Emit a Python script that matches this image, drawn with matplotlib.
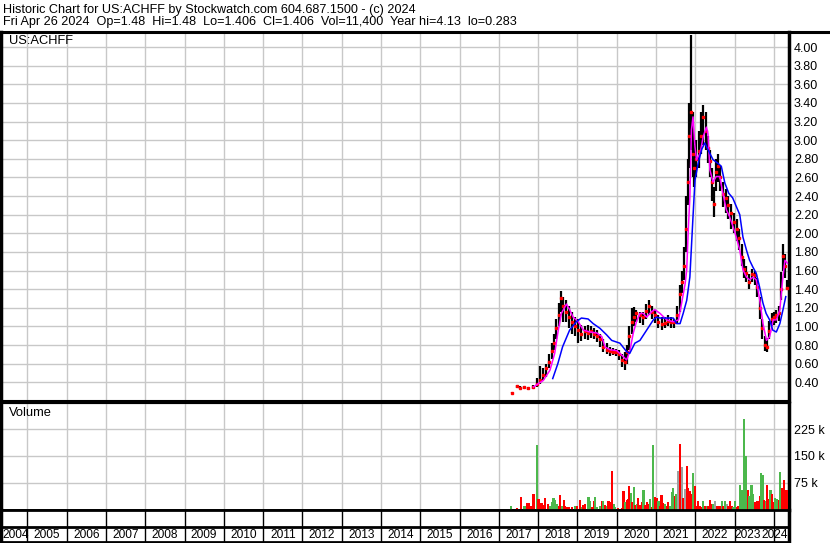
import matplotlib
matplotlib.use("Agg")
import matplotlib.pyplot as plt
from matplotlib.lines import Line2D
import numpy as np

plt.rcParams['font.family'] = ['Liberation Sans', 'DejaVu Sans']

W, H = 830, 543

# --- price data (decimal year, close, high, low) ---
price_years = [2017.34, 2017.45, 2017.55, 2017.65, 2017.75, 2017.88, 2017.96, 2018.04, 2018.12, 2018.20,
               2018.27, 2018.34, 2018.40, 2018.46, 2018.52, 2018.58, 2018.64, 2018.70, 2018.78, 2018.86,
               2018.94, 2019.02, 2019.10, 2019.18, 2019.26, 2019.34, 2019.42, 2019.50, 2019.58, 2019.66,
               2019.74, 2019.82, 2019.90, 2019.98, 2020.06, 2020.14, 2020.20, 2020.26, 2020.32, 2020.38,
               2020.44, 2020.50, 2020.58, 2020.66, 2020.74, 2020.82, 2020.90, 2020.98, 2021.06, 2021.14,
               2021.22, 2021.30, 2021.38, 2021.46, 2021.53, 2021.60, 2021.66, 2021.72, 2021.77, 2021.81,
               2021.85, 2021.89, 2021.93, 2021.97, 2022.02, 2022.08, 2022.14, 2022.20, 2022.26, 2022.31,
               2022.36, 2022.42, 2022.48, 2022.53, 2022.58, 2022.63, 2022.70, 2022.77, 2022.84, 2022.91,
               2022.98, 2023.05, 2023.12, 2023.18, 2023.24, 2023.30, 2023.37, 2023.44, 2023.51, 2023.58,
               2023.64, 2023.70, 2023.76, 2023.82, 2023.88, 2023.94, 2024.00, 2024.06, 2024.12, 2024.17,
               2024.22, 2024.27, 2024.32]
price_close = [0.29, 0.36, 0.34, 0.35, 0.34, 0.35, 0.38, 0.42, 0.48, 0.55,
               0.62, 0.74, 0.82, 0.98, 1.12, 1.30, 1.22, 1.16, 1.10, 1.05,
               1.00, 0.96, 0.92, 0.95, 0.93, 0.95, 0.92, 0.90, 0.86, 0.78,
               0.75, 0.74, 0.73, 0.72, 0.70, 0.64, 0.62, 0.72, 0.90, 1.05,
               1.10, 1.14, 1.12, 1.10, 1.17, 1.22, 1.16, 1.12, 1.05, 1.03,
               1.04, 1.06, 1.05, 1.05, 1.12, 1.35, 1.48, 1.65, 2.05, 2.55,
               3.05, 3.30, 2.85, 2.70, 2.80, 2.88, 3.05, 3.25, 3.10, 2.92,
               2.78, 2.55, 2.32, 2.66, 2.72, 2.60, 2.42, 2.38, 2.30, 2.22,
               2.12, 2.05, 1.95, 1.75, 1.62, 1.57, 1.48, 1.56, 1.55, 1.42,
               1.20, 0.98, 0.80, 0.78, 0.95, 1.08, 1.10, 1.12, 1.14, 1.40,
               1.76, 1.65, 1.41]
price_high = [0.30, 0.37, 0.36, 0.36, 0.35, 0.37, 0.45, 0.57, 0.55, 0.60,
              0.70, 0.82, 0.92, 1.08, 1.25, 1.38, 1.32, 1.28, 1.22, 1.15,
              1.10, 1.08, 1.02, 1.00, 1.02, 1.00, 0.98, 0.96, 0.92, 0.86,
              0.82, 0.78, 0.77, 0.76, 0.75, 0.70, 0.72, 0.80, 1.00, 1.20,
              1.21, 1.18, 1.16, 1.15, 1.24, 1.28, 1.22, 1.18, 1.12, 1.10,
              1.10, 1.12, 1.10, 1.08, 1.22, 1.45, 1.60, 1.85, 2.40, 2.80,
              3.40, 4.13, 3.30, 2.95, 3.00, 3.10, 3.30, 3.38, 3.30, 3.05,
              2.90, 2.70, 2.50, 2.80, 2.85, 2.72, 2.55, 2.48, 2.40, 2.32,
              2.22, 2.15, 2.05, 1.88, 1.72, 1.65, 1.56, 1.62, 1.60, 1.52,
              1.32, 1.08, 0.90, 0.88, 1.06, 1.14, 1.16, 1.18, 1.22, 1.58,
              1.88, 1.78, 1.50]
price_low = [0.28, 0.34, 0.33, 0.33, 0.32, 0.33, 0.35, 0.38, 0.42, 0.46,
             0.55, 0.65, 0.75, 0.86, 1.00, 1.15, 1.05, 1.05, 0.98, 0.92,
             0.90, 0.82, 0.84, 0.86, 0.85, 0.88, 0.86, 0.83, 0.78, 0.72,
             0.70, 0.68, 0.69, 0.68, 0.64, 0.56, 0.53, 0.60, 0.75, 0.92,
             1.00, 1.05, 1.04, 1.02, 1.08, 1.12, 1.08, 1.04, 0.98, 0.96,
             0.98, 1.00, 0.98, 0.98, 1.04, 1.15, 1.36, 1.50, 1.80, 2.30,
             2.70, 2.90, 2.60, 2.50, 2.60, 2.70, 2.85, 2.95, 2.90, 2.75,
             2.60, 2.35, 2.18, 2.45, 2.55, 2.45, 2.28, 2.22, 2.15, 2.05,
             2.00, 1.92, 1.82, 1.65, 1.52, 1.48, 1.40, 1.48, 1.45, 1.32,
             1.08, 0.86, 0.74, 0.72, 0.86, 1.00, 1.02, 1.04, 1.06, 1.28,
             1.60, 1.52, 1.40]

# short moving average (magenta)
ma_short_years = [2017.88, 2018.13, 2018.30, 2018.42, 2018.50, 2018.59, 2018.72, 2018.80, 2018.89, 2019.02,
                  2019.15, 2019.32, 2019.49, 2019.62, 2019.70, 2019.83, 2020.00, 2020.13, 2020.25, 2020.33,
                  2020.42, 2020.50, 2020.59, 2020.67, 2020.76, 2020.89, 2020.97, 2021.10, 2021.27, 2021.44,
                  2021.57, 2021.65, 2021.74, 2021.78, 2021.82, 2021.86, 2021.90, 2021.94, 2021.99, 2022.03,
                  2022.12, 2022.20, 2022.28, 2022.32, 2022.37, 2022.45, 2022.53, 2022.62, 2022.70, 2022.79,
                  2022.87, 2022.96, 2023.04, 2023.13, 2023.21, 2023.30, 2023.38, 2023.47, 2023.55, 2023.64,
                  2023.72, 2023.81, 2023.89, 2023.98, 2024.06, 2024.15, 2024.22, 2024.28, 2024.34]
ma_short = [0.35, 0.42, 0.53, 0.71, 0.93, 1.14, 1.24, 1.18, 1.10, 1.05,
            0.96, 0.94, 0.93, 0.89, 0.78, 0.75, 0.74, 0.69, 0.64, 0.73,
            0.93, 1.05, 1.14, 1.14, 1.10, 1.16, 1.18, 1.14, 1.07, 1.05,
            1.07, 1.25, 1.46, 1.61, 2.04, 2.39, 3.11, 3.25, 2.93, 2.79,
            2.86, 3.04, 3.14, 3.07, 2.68, 2.55, 2.61, 2.61, 2.43, 2.25,
            2.18, 2.07, 1.96, 1.82, 1.61, 1.53, 1.50, 1.53, 1.50, 1.28,
            1.03, 0.85, 0.89, 1.07, 1.07, 1.18, 1.50, 1.71, 1.68]

# long moving average (blue)
ma_long_years = [2018.37, 2018.50, 2018.62, 2018.80, 2018.97, 2019.10, 2019.27, 2019.40, 2019.57, 2019.74,
                 2019.87, 2020.08, 2020.25, 2020.33, 2020.46, 2020.59, 2020.76, 2020.93, 2021.01, 2021.10,
                 2021.27, 2021.44, 2021.52, 2021.61, 2021.69, 2021.78, 2021.86, 2021.94, 2021.99, 2022.07,
                 2022.16, 2022.24, 2022.32, 2022.45, 2022.58, 2022.66, 2022.75, 2022.85, 2022.95, 2023.04,
                 2023.13, 2023.21, 2023.30, 2023.38, 2023.46, 2023.55, 2023.63, 2023.72, 2023.80, 2023.89,
                 2023.97, 2024.06, 2024.15, 2024.23, 2024.30]
ma_long = [0.44, 0.60, 0.78, 0.96, 1.05, 1.09, 1.08, 1.03, 0.98, 0.91,
           0.85, 0.82, 0.73, 0.71, 0.82, 0.85, 0.96, 1.07, 1.10, 1.09,
           1.09, 1.09, 1.03, 1.03, 1.14, 1.28, 1.53, 2.18, 2.57, 2.75,
           2.90, 2.97, 2.90, 2.79, 2.75, 2.72, 2.54, 2.43, 2.38, 2.29,
           2.20, 1.96, 1.82, 1.71, 1.64, 1.57, 1.43, 1.25, 1.14, 1.07,
           0.96, 0.94, 1.03, 1.18, 1.32]

# --- volume (thousands), 'u' = up bar (green), 'd' = down bar (red), 'g' = unchanged ---
vol_years = [2017.31, 2017.46, 2017.56, 2017.65, 2017.71, 2017.76, 2017.82, 2017.88, 2017.96, 2018.01,
             2018.05, 2018.09, 2018.14, 2018.18, 2018.25, 2018.31, 2018.35, 2018.39, 2018.43, 2018.48,
             2018.52, 2018.56, 2018.60, 2018.65, 2018.69, 2018.73, 2018.79, 2018.86, 2018.94, 2018.98,
             2019.07, 2019.11, 2019.15, 2019.20, 2019.28, 2019.32, 2019.37, 2019.41, 2019.45, 2019.49,
             2019.58, 2019.62, 2019.66, 2019.71, 2019.75, 2019.79, 2019.83, 2019.87, 2019.92, 2019.96,
             2020.04, 2020.13, 2020.17, 2020.21, 2020.26, 2020.30, 2020.32, 2020.36, 2020.38, 2020.43,
             2020.47, 2020.51, 2020.55, 2020.60, 2020.64, 2020.68, 2020.72, 2020.76, 2020.80, 2020.84,
             2020.89, 2020.93, 2020.97, 2021.01, 2021.06, 2021.10, 2021.14, 2021.18, 2021.23, 2021.27,
             2021.31, 2021.35, 2021.40, 2021.44, 2021.48, 2021.52, 2021.57, 2021.61, 2021.65, 2021.69,
             2021.74, 2021.78, 2021.82, 2021.86, 2021.90, 2021.95, 2021.99, 2022.03, 2022.07, 2022.12,
             2022.16, 2022.20, 2022.24, 2022.29, 2022.33, 2022.37, 2022.41, 2022.46, 2022.50, 2022.54,
             2022.58, 2022.63, 2022.67, 2022.71, 2022.75, 2022.80, 2022.84, 2022.88, 2022.92, 2022.96,
             2023.01, 2023.05, 2023.09, 2023.13, 2023.18, 2023.22, 2023.24, 2023.29, 2023.33, 2023.37,
             2023.43, 2023.47, 2023.52, 2023.56, 2023.60, 2023.64, 2023.67, 2023.71, 2023.75, 2023.80,
             2023.82, 2023.86, 2023.91, 2023.95, 2023.99, 2024.03, 2024.08, 2024.12, 2024.16, 2024.20,
             2024.25, 2024.29, 2024.33]
vol_k = [11, 5, 34, 11, 18, 18, 10, 43, 180, 30,
         18, 18, 12, 31, 16, 11, 20, 31, 28, 16,
         10, 41, 11, 27, 9, 7, 6, 6, 11, 9,
         27, 6, 13, 16, 35, 23, 6, 24, 35, 6,
         11, 24, 24, 13, 11, 23, 20, 109, 16, 6,
         4, 4, 52, 20, 27, 30, 65, 45, 20, 62,
         13, 16, 31, 13, 22, 54, 12, 22, 16, 30,
         8, 181, 36, 33, 24, 11, 41, 17, 16, 11,
         20, 11, 50, 61, 39, 43, 108, 183, 118, 31,
         57, 122, 59, 53, 44, 103, 65, 11, 23, 11,
         8, 23, 11, 9, 11, 28, 16, 16, 25, 11,
         9, 11, 23, 11, 25, 16, 11, 25, 11, 8,
         23, 8, 11, 70, 56, 56, 254, 151, 56, 37,
         70, 43, 20, 24, 24, 37, 101, 98, 27, 24,
         70, 30, 56, 43, 20, 33, 30, 28, 106, 59,
         84, 54, 54]
vol_dir = list("udduddddud"
               "ddddduuuuu"
               "ddudddddud"
               "dudduudduu"
               "udududdduu"
               "dddudddudu"
               "dudddudddu"
               "duddudddud"
               "duuudugdgd"
               "gddddudddd"
               "dududddugd"
               "ddudugdddu"
               "udduuuuudu"
               "uudddduudu"
               "ddudduudud"
               "ddd")

year_ticks = list(range(2005, 2025))
year_labels = [str(y) for y in range(2004, 2025)]
price_ticks = [0.4, 0.6, 0.8, 1.0, 1.2, 1.4, 1.6, 1.8, 2.0, 2.2, 2.4, 2.6, 2.8, 3.0, 3.2, 3.4, 3.6, 3.8, 4.0]
vol_ticks = [75, 150, 225, 300]
vol_tick_labels = ["75 k", "150 k", "225 k", ""]

header1 = "Historic Chart for US:ACHFF by Stockwatch.com 604.687.1500 - (c) 2024"
header2 = ("Fri Apr 26 2024  Op=1.48  Hi=1.48  Lo=1.406  Cl=1.406  "
           "Vol=11,400  Year hi=4.13  lo=0.283")


def box(x0, y0, x1, y1):
    # pixel box -> figure fraction rect
    return [x0 / W, 1 - y1 / H, (x1 - x0) / W, (y1 - y0) / H]


XL = (2004.33, 2024.37)
GRID = '#c8c8c8'
UP = '#4cb84c'
DOWN = '#ff0000'

fig = plt.figure(figsize=(W / 100, H / 100), dpi=100)
fig.patch.set_facecolor('white')

# header
fig.text(3 / W, 1 - 10 / H, header1, fontsize=9.1, va='center', ha='left')
fig.text(3 / W, 1 - 22.5 / H, header2, fontsize=9.1, va='center', ha='left')
fig.add_artist(Line2D([0, 1], [1 - 31.5 / H, 1 - 31.5 / H], color='black', lw=2.2,
                      transform=fig.transFigure))

# ---- price panel ----
ax = fig.add_axes(box(1, 32, 788.5, 401))
ax.set_xlim(XL)
ax.set_ylim(0.199, 4.162)
ax.set_xticks(year_ticks)
ax.set_xticklabels([])
ax.set_yticks(price_ticks)
ax.set_yticklabels(["%.2f" % v for v in price_ticks])
ax.yaxis.tick_right()
ax.tick_params(axis='both', length=0, labelsize=9, pad=4)
ax.grid(True, color=GRID, lw=1)
ax.set_axisbelow(True)
ax.vlines(price_years, price_low, price_high, color='black', lw=1.6, zorder=3)
ax.plot(price_years, price_close, ls='none', marker='s', ms=2.0, color='red', zorder=4)
ax.plot(ma_short_years, ma_short, color='#ff00ff', lw=1.1, zorder=5)
ax.plot(ma_long_years, ma_long, color='#0000ff', lw=1.1, zorder=5)
ax.text(8 / 787.5, 1 - 9 / 369, "US:ACHFF", transform=ax.transAxes, fontsize=9.3,
        va='center', ha='left')
for s in ['left', 'right']:
    ax.spines[s].set_linewidth(2.5)
ax.spines['top'].set_linewidth(0)
ax.spines['bottom'].set_linewidth(1.5)

# ---- volume panel ----
av = fig.add_axes(box(1, 402.5, 788.5, 509.5))
av.set_xlim(XL)
av.set_ylim(0, 300)
av.set_xticks(year_ticks)
av.set_xticklabels([])
av.set_yticks(vol_ticks)
av.set_yticklabels(vol_tick_labels)
av.yaxis.tick_right()
av.tick_params(axis='both', length=0, labelsize=9, pad=4)
av.grid(True, color=GRID, lw=1)
av.set_axisbelow(True)
cols = [UP if d == 'u' else DOWN if d == 'd' else '#a0a0a0' for d in vol_dir]
av.bar(vol_years, vol_k, width=0.055, color=cols, align='center', zorder=3)
av.text(8 / 787.5, 1 - 10 / 107, "Volume", transform=av.transAxes, fontsize=9.3,
        va='center', ha='left')
for s in ['left', 'right']:
    av.spines[s].set_linewidth(2.5)
av.spines['top'].set_linewidth(1.5)
av.spines['bottom'].set_linewidth(2)

# ---- year strip ----
ay = fig.add_axes(box(1, 509.5, 788.5, 541.5))
ay.set_xlim(XL)
ay.set_ylim(0, 1)
ay.set_xticks([])
ay.set_yticks([])
ay.vlines(year_ticks, 0, 1, color='black', lw=1)
ay.axhline(14.5 / 32, color='black', lw=2)
for i, lab in enumerate(year_labels):
    y0 = 2004 + i
    if y0 == 2004:
        ay.text(XL[0] + 0.04, 7 / 32, lab, fontsize=8.6, ha='left', va='center')
    elif y0 == 2023:
        ay.text(2023.68, 7 / 32, lab, fontsize=8.6, ha='right', va='center')
    elif y0 == 2024:
        ay.text(XL[1] - 0.01, 7 / 32, lab, fontsize=8.6, ha='right', va='center')
    else:
        ay.text(y0 + 0.5, 7 / 32, lab, fontsize=8.6, ha='center', va='center')
for s in ['left', 'right']:
    ay.spines[s].set_linewidth(2.5)
ay.spines['top'].set_linewidth(2)
ay.spines['bottom'].set_linewidth(2)

fig.savefig('out.png', dpi=100)
